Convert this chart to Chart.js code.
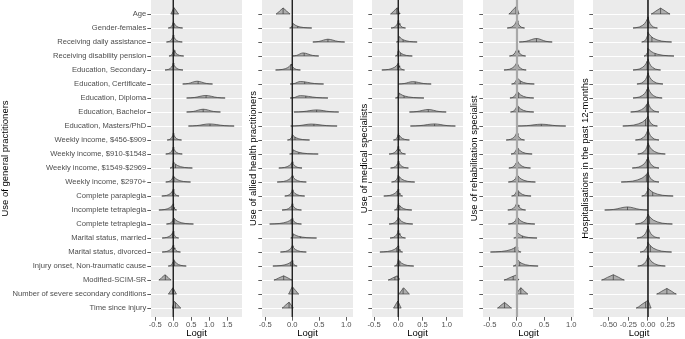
<!DOCTYPE html>
<html>
<head>
<meta charset="utf-8">
<script src="https://cdn.jsdelivr.net/npm/chart.js@4"></script>
<style>
  html, body { margin: 0; padding: 0; background: #ffffff; }
  #wrap { position: relative; width: 685px; height: 339px; overflow: hidden; }
  .panel { position: absolute; top: 0; height: 339px; }
</style>
</head>
<body>
<div id="wrap"></div>
<script>
/* Posterior logit distributions, one ridge per predictor, five outcomes */

const variables = [
    'Age', 'Gender-females', 'Receiving daily assistance', 'Receiving disability pension',
    'Education, Secondary', 'Education, Certificate', 'Education, Diploma', 'Education, Bachelor',
    'Education, Masters/PhD', 'Weekly income, $456-$909', 'Weekly income, $910-$1548',
    'Weekly income, $1549-$2969', 'Weekly income, $2970+', 'Complete paraplegia',
    'Incomplete tetraplegia', 'Complete tetraplegia', 'Marital status, married',
    'Marital status, divorced', 'Injury onset, Non-traumatic cause', 'Modified-SCIM-SR',
    'Number of severe secondary conditions', 'Time since injury'
];

const outcomes = [
    'Use of general practitioners', 'Use of allied health practitioners', 'Use of medical specialists',
    'Use of rehabilitation specialist', 'Hospitalisations in the past 12-months'
];

const gpTicks = [-0.5, 0, 0.5, 1, 1.5];
const alliedTicks = [-0.5, 0, 0.5, 1];
const specTicks = [-0.5, 0, 0.5, 1];
const rehabTicks = [-0.5, 0, 0.5, 1];
const hospTicks = [-0.5, -0.25, 0, 0.25];

// each row: [low, peak, high, median, density height (rows), shape]
// shape: s = sharp peak, g = smooth bell, t = tent
const gpRows = [
    [-0.07, 0.02, 0.15, 0.02, 0.45, 't'],
    [-0.14, 0.00, 0.26, 0.02, 0.50, 's'],
    [-0.19, 0.00, 0.25, 0.00, 0.50, 's'],
    [-0.12, 0.01, 0.29, 0.03, 0.50, 's'],
    [-0.23, 0.00, 0.27, 0.00, 0.50, 's'],
    [0.26, 0.66, 1.09, 0.69, 0.20, 'g'],
    [0.37, 0.90, 1.44, 0.91, 0.18, 'g'],
    [0.37, 0.83, 1.31, 0.83, 0.20, 'g'],
    [0.42, 1.00, 1.69, 1.02, 0.15, 'g'],
    [-0.17, 0.00, 0.23, 0.01, 0.50, 's'],
    [-0.21, 0.00, 0.25, 0.00, 0.50, 's'],
    [-0.09, 0.00, 0.53, 0.06, 0.45, 's'],
    [-0.21, 0.00, 0.48, 0.02, 0.45, 's'],
    [-0.32, 0.00, 0.16, -0.02, 0.50, 's'],
    [-0.40, 0.00, 0.09, -0.04, 0.45, 's'],
    [-0.19, 0.01, 0.56, 0.03, 0.45, 's'],
    [-0.31, 0.00, 0.15, -0.02, 0.50, 's'],
    [-0.31, 0.00, 0.20, -0.01, 0.50, 's'],
    [-0.14, 0.01, 0.36, 0.03, 0.50, 's'],
    [-0.40, -0.23, -0.06, -0.22, 0.38, 't'],
    [-0.14, -0.01, 0.09, -0.02, 0.45, 't'],
    [-0.03, 0.03, 0.21, 0.06, 0.48, 't']
];

const alliedRows = [
    [-0.30, -0.17, -0.04, -0.17, 0.43, 't'],
    [-0.05, 0.01, 0.36, 0.10, 0.35, 's'],
    [0.38, 0.66, 0.97, 0.66, 0.20, 'g'],
    [0.00, 0.20, 0.49, 0.22, 0.22, 'g'],
    [-0.31, -0.02, 0.15, -0.03, 0.43, 's'],
    [-0.04, 0.15, 0.58, 0.23, 0.18, 'g'],
    [-0.04, 0.15, 0.66, 0.25, 0.17, 'g'],
    [0.03, 0.45, 0.86, 0.45, 0.15, 'g'],
    [-0.03, 0.35, 0.83, 0.40, 0.14, 'g'],
    [-0.09, 0.00, 0.32, 0.05, 0.40, 's'],
    [-0.05, 0.02, 0.48, 0.12, 0.30, 's'],
    [-0.25, 0.00, 0.18, -0.01, 0.45, 's'],
    [-0.28, 0.00, 0.26, 0.00, 0.45, 's'],
    [-0.14, 0.00, 0.23, 0.01, 0.45, 's'],
    [-0.19, 0.00, 0.17, 0.00, 0.45, 's'],
    [-0.42, 0.00, 0.17, -0.02, 0.40, 's'],
    [-0.03, 0.02, 0.45, 0.15, 0.30, 's'],
    [-0.22, 0.00, 0.26, 0.00, 0.45, 's'],
    [-0.36, 0.00, 0.09, -0.03, 0.40, 's'],
    [-0.34, -0.16, 0.00, -0.16, 0.30, 't'],
    [-0.07, 0.00, 0.12, 0.01, 0.52, 't'],
    [-0.19, -0.06, 0.02, -0.06, 0.42, 't']
];

const specRows = [
    [-0.16, -0.02, 0.03, -0.03, 0.45, 't'],
    [-0.15, 0.00, 0.15, 0.00, 0.55, 's'],
    [-0.04, 0.02, 0.39, 0.10, 0.40, 's'],
    [-0.06, 0.00, 0.29, 0.05, 0.45, 's'],
    [-0.34, 0.00, 0.13, -0.01, 0.50, 's'],
    [0.00, 0.30, 0.68, 0.35, 0.17, 'g'],
    [-0.06, 0.02, 0.53, 0.12, 0.35, 's'],
    [0.23, 0.62, 0.99, 0.62, 0.18, 'g'],
    [0.25, 0.75, 1.18, 0.75, 0.15, 'g'],
    [-0.10, 0.00, 0.23, 0.02, 0.50, 's'],
    [-0.19, 0.00, 0.15, 0.00, 0.55, 's'],
    [-0.16, 0.00, 0.21, 0.01, 0.50, 's'],
    [-0.14, 0.00, 0.34, 0.02, 0.50, 's'],
    [-0.30, 0.00, 0.09, -0.02, 0.50, 's'],
    [-0.08, 0.00, 0.28, 0.03, 0.50, 's'],
    [-0.19, 0.00, 0.30, 0.01, 0.50, 's'],
    [-0.17, 0.00, 0.15, 0.00, 0.55, 's'],
    [-0.38, 0.00, 0.09, -0.03, 0.45, 's'],
    [-0.08, 0.00, 0.32, 0.03, 0.50, 's'],
    [-0.21, -0.02, 0.02, -0.07, 0.30, 't'],
    [0.01, 0.11, 0.23, 0.10, 0.45, 't'],
    [-0.10, -0.01, 0.06, -0.01, 0.50, 't']
];

const rehabRows = [
    [-0.15, -0.01, 0.04, -0.02, 0.55, 't'],
    [-0.18, 0.00, 0.14, 0.00, 0.65, 's'],
    [0.04, 0.36, 0.65, 0.36, 0.25, 'g'],
    [-0.14, 0.00, 0.16, 0.00, 0.65, 's'],
    [-0.24, 0.00, 0.17, -0.01, 0.60, 's'],
    [-0.10, 0.00, 0.32, 0.06, 0.50, 's'],
    [-0.13, 0.00, 0.31, 0.03, 0.55, 's'],
    [-0.12, 0.00, 0.31, 0.03, 0.55, 's'],
    [0.00, 0.45, 0.90, 0.45, 0.13, 'g'],
    [-0.20, 0.00, 0.14, -0.01, 0.60, 's'],
    [-0.11, 0.00, 0.28, 0.02, 0.55, 's'],
    [-0.15, 0.00, 0.25, 0.01, 0.60, 's'],
    [-0.16, 0.00, 0.34, 0.02, 0.55, 's'],
    [-0.10, 0.00, 0.26, 0.03, 0.55, 's'],
    [-0.17, 0.00, 0.16, 0.00, 0.60, 's'],
    [-0.16, 0.00, 0.33, 0.02, 0.55, 's'],
    [-0.06, 0.01, 0.37, 0.10, 0.40, 's'],
    [-0.49, 0.00, 0.07, -0.04, 0.45, 's'],
    [-0.07, 0.01, 0.39, 0.05, 0.45, 's'],
    [-0.24, -0.02, 0.03, -0.07, 0.35, 't'],
    [-0.02, 0.07, 0.20, 0.07, 0.45, 't'],
    [-0.36, -0.23, -0.10, -0.23, 0.40, 't']
];

const hospRows = [
    [0.04, 0.16, 0.28, 0.16, 0.42, 't'],
    [-0.19, 0.00, 0.12, 0.00, 0.80, 's'],
    [-0.08, 0.00, 0.30, 0.05, 0.70, 's'],
    [-0.05, 0.00, 0.33, 0.09, 0.55, 's'],
    [-0.19, 0.00, 0.16, -0.01, 0.80, 's'],
    [-0.14, 0.00, 0.19, 0.00, 0.80, 's'],
    [-0.19, 0.00, 0.18, -0.01, 0.80, 's'],
    [-0.22, 0.00, 0.14, -0.02, 0.75, 's'],
    [-0.32, 0.00, 0.12, -0.03, 0.70, 's'],
    [-0.16, 0.00, 0.14, 0.00, 0.80, 's'],
    [-0.13, 0.00, 0.22, 0.01, 0.80, 's'],
    [-0.20, 0.00, 0.14, -0.01, 0.80, 's'],
    [-0.34, 0.00, 0.14, -0.02, 0.70, 's'],
    [-0.08, 0.00, 0.32, 0.06, 0.60, 's'],
    [-0.55, -0.26, 0.00, -0.26, 0.22, 'g'],
    [-0.16, 0.00, 0.31, 0.02, 0.70, 's'],
    [-0.14, 0.00, 0.15, 0.00, 0.85, 's'],
    [-0.10, 0.00, 0.30, 0.03, 0.70, 's'],
    [-0.13, 0.00, 0.22, 0.00, 0.75, 's'],
    [-0.59, -0.44, -0.30, -0.44, 0.38, 't'],
    [0.11, 0.24, 0.36, 0.24, 0.40, 't'],
    [-0.15, 0.00, 0.04, -0.03, 0.55, 't']
];

// ridge outline: [distance from peak as share of the tail, height as share of the peak]
const profiles = {
    s: [[0, 1], [0.05, 0.8], [0.12, 0.6], [0.22, 0.4], [0.38, 0.22], [0.58, 0.09], [0.8, 0.03], [1, 0]],
    g: [[0, 1], [0.15, 0.9], [0.3, 0.67], [0.45, 0.4], [0.6, 0.2], [0.8, 0.06], [1, 0]],
    t: [[0, 1], [0.5, 0.5], [0.8, 0.15], [1, 0]]
};

const Y_MIN = -1, Y_MAX = 21.64;
const EDGE = '#3a3a3a';
const FILL = 'rgba(135,135,135,0.6)';

Chart.defaults.font.family = "'Liberation Sans', Arial, sans-serif";

function shareAt(prof, d) {
    for (let k = 1; k < prof.length; k++) {
        if (d <= prof[k][0]) {
            const t = (d - prof[k - 1][0]) / (prof[k][0] - prof[k - 1][0]);
            return prof[k - 1][1] + t * (prof[k][1] - prof[k - 1][1]);
        }
    }
    return 0;
}

function ridgeDatasets(rows, vColor, vWidth) {
    const ds = [{
        data: [{ x: 0, y: Y_MIN }, { x: 0, y: Y_MAX }],
        borderColor: vColor, borderWidth: vWidth, order: 0
    }];
    rows.forEach((r, i) => {
        const [lo, peak, hi, med, h, kind] = r;
        const prof = profiles[kind];
        const pts = [];
        for (let k = prof.length - 1; k >= 0; k--) pts.push({ x: peak - prof[k][0] * (peak - lo), y: i - h * prof[k][1] });
        for (let k = 1; k < prof.length; k++) pts.push({ x: peak + prof[k][0] * (hi - peak), y: i - h * prof[k][1] });
        ds.push({ data: pts, fill: { value: i }, backgroundColor: FILL, borderColor: EDGE, borderWidth: 0.7, order: 2 });
        ds.push({ data: [{ x: lo, y: i }, { x: hi, y: i }], borderColor: EDGE, borderWidth: 0.7, order: 1 });
        const d = med < peak ? (peak - med) / (peak - lo) : (med - peak) / ((hi - peak) || 1);
        ds.push({ data: [{ x: med, y: i }, { x: med, y: i - h * shareAt(prof, d) }], borderColor: EDGE, borderWidth: 0.7, order: 1 });
    });
    return ds;
}

const panelBg = {
    id: 'panelBg',
    beforeDraw(chart) {
        const { ctx, chartArea: a } = chart;
        ctx.save();
        ctx.fillStyle = '#ebebeb';
        ctx.fillRect(a.left, a.top, a.width, a.height);
        ctx.restore();
    }
};

// left/width: where the canvas sits, padRight keeps the last tick label inside it
const panels = [
    { rows: gpRows, ticks: gpTicks, min: -0.619, max: 1.908, dec: 1, left: 0, width: 242, padRight: 0, axisW: 151, labels: true, titlePad: 0, vColor: '#1a1a1a', vWidth: 0.8 },
    { rows: alliedRows, ticks: alliedTicks, min: -0.561, max: 1.124, dec: 1, left: 242, width: 121, padRight: 10, axisW: 20, labels: false, titlePad: 5.5, vColor: '#1a1a1a', vWidth: 0.8 },
    { rows: specRows, ticks: specTicks, min: -0.543, max: 1.337, dec: 1, left: 352, width: 121, padRight: 10, axisW: 20, labels: false, titlePad: 6.3, vColor: '#1a1a1a', vWidth: 0.8 },
    { rows: rehabRows, ticks: rehabTicks, min: -0.627, max: 1.052, dec: 1, left: 463, width: 121, padRight: 10, axisW: 20, labels: false, titlePad: 5.8, vColor: '#a8a8a8', vWidth: 2.2 },
    { rows: hospRows, ticks: hospTicks, min: -0.698, max: 0.47, dec: 2, left: 573, width: 112, padRight: 0, axisW: 20, labels: false, titlePad: 6.8, vColor: '#1a1a1a', vWidth: 0.8 }
];

const wrap = document.getElementById('wrap');
panels.forEach((p, n) => {
    const div = document.createElement('div');
    div.className = 'panel';
    div.style.left = p.left + 'px';
    div.style.width = p.width + 'px';
    div.style.zIndex = String(10 - n);
    const cv = document.createElement('canvas');
    cv.width = p.width;
    cv.height = 339;
    div.appendChild(cv);
    wrap.appendChild(div);

    new Chart(cv, {
        type: 'line',
        data: { datasets: ridgeDatasets(p.rows, p.vColor, p.vWidth) },
        options: {
            responsive: false,
            devicePixelRatio: 1,
            animation: false,
            events: [],
            layout: { padding: { left: 0, top: 0, bottom: 0, right: p.padRight } },
            elements: { point: { radius: 0 }, line: { tension: 0, fill: false } },
            plugins: { legend: { display: false }, tooltip: { enabled: false } },
            scales: {
                x: {
                    type: 'linear', min: p.min, max: p.max,
                    afterBuildTicks: s => { s.ticks = p.ticks.map(v => ({ value: v })); },
                    afterFit: s => { s.height = 22; s.paddingLeft = 0; s.paddingRight = 0; },
                    ticks: { color: '#4d4d4d', font: { size: 7.6 }, padding: 0, autoSkip: false, maxRotation: 0,
                        callback: v => Number(v).toFixed(p.dec) },
                    grid: { drawOnChartArea: false, tickColor: '#333333', tickLength: 3.7, tickWidth: 0.8 },
                    border: { display: false },
                    title: { display: true, text: 'Logit', color: '#000000', font: { size: 9.5 }, padding: 0 }
                },
                y: {
                    type: 'linear', reverse: true, min: Y_MIN, max: Y_MAX,
                    afterBuildTicks: s => { s.ticks = variables.map((v, i) => ({ value: i })); },
                    afterFit: s => { s.width = p.axisW; s.paddingTop = 0; s.paddingBottom = 0; },
                    ticks: { color: '#4d4d4d', font: { size: 7.6 }, padding: 1, autoSkip: false,
                        callback: v => p.labels ? variables[v] : '' },
                    grid: { color: '#ffffff', lineWidth: 1, tickColor: '#333333', tickLength: 3.7, tickWidth: 0.8 },
                    border: { display: false },
                    title: { display: true, text: outcomes[n], color: '#000000', font: { size: 9.5 }, padding: { top: p.titlePad, bottom: 0 } }
                }
            }
        },
        plugins: [panelBg]
    });
});
</script>
</body>
</html>
